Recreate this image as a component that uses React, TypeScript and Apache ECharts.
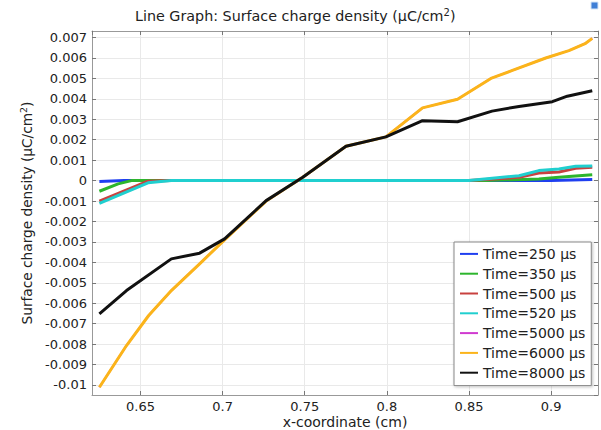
import React, { useEffect, useRef } from "react";
import * as echarts from "echarts";

const seriesNames = [
  "Time=250 µs",
  "Time=350 µs",
  "Time=500 µs",
  "Time=520 µs",
  "Time=5000 µs",
  "Time=6000 µs",
  "Time=8000 µs",
];
const seriesColors = ["#1f3ff0", "#2db52d", "#c8413f", "#20cfcf", "#d03ad0", "#fbb41a", "#111111"];

const x250 = [0.625, 0.64, 0.9, 0.925];
const y250 = [-0.00004, 0, 0, 0.00005];

const x350 = [0.625, 0.6364, 0.6445, 0.86, 0.8925, 0.9047, 0.925];
const y350 = [-0.00052, -0.00016, 0, 0, 0.00008, 0.00016, 0.00029];

const x500 = [0.625, 0.6546, 0.668, 0.85, 0.8804, 0.8925, 0.9047, 0.9149, 0.925];
const y500 = [-0.00101, -0.00003, 0, 0, 0.00016, 0.00037, 0.00042, 0.0006, 0.00065];

const x520 = [0.625, 0.6546, 0.6688, 0.85, 0.8804, 0.8925, 0.9047, 0.9149, 0.925];
const y520 = [-0.00111, -0.00011, 0, 0, 0.00024, 0.00049, 0.00057, 0.0007, 0.00072];

const x6000 = [0.625, 0.6415, 0.655, 0.6688, 0.686, 0.7012, 0.7265, 0.7488, 0.7751, 0.7994, 0.8217, 0.843, 0.8633, 0.876, 0.8967, 0.9108, 0.921, 0.925];
const y6000 = [-0.01011, -0.00807, -0.0066, -0.00538, -0.00407, -0.0029, -0.001, 0.00016, 0.00168, 0.00214, 0.00356, 0.00398, 0.005, 0.00538, 0.006, 0.00636, 0.00672, 0.00696];

const x5000 = x6000;
const y5000 = y6000;

const x8000 = [0.625, 0.6415, 0.6688, 0.686, 0.7012, 0.7265, 0.7488, 0.7751, 0.7994, 0.8217, 0.843, 0.864, 0.8804, 0.9007, 0.9098, 0.925];
const y8000 = [-0.00652, -0.00538, -0.00383, -0.00355, -0.00285, -0.00098, 0.00016, 0.00168, 0.00214, 0.00293, 0.00288, 0.0034, 0.00363, 0.00386, 0.00413, 0.0044];

const seriesX = [x250, x350, x500, x520, x5000, x6000, x8000];
const seriesY = [y250, y350, y500, y520, y5000, y6000, y8000];
const seriesWidths = [3, 3, 3, 3, 2, 3, 3];

const xAxisTitle = "x-coordinate (cm)";

const FONT = "DejaVu Sans";

function fmtY(v: number) {
  if (Math.abs(v) < 1e-12) return "0";
  return String(parseFloat(v.toFixed(3)));
}
function fmtX(v: number) {
  return String(parseFloat(v.toFixed(2)));
}

export default function App() {
  const ref = useRef<HTMLDivElement>(null);
  useEffect(() => {
    if (!ref.current) return;
    const chart = echarts.init(ref.current, null, { renderer: "svg" });
    const axisLineStyle = { color: "#999", width: 1 };
    const tickStyle = { color: "#777", width: 1 };
    const xBase = {
      type: "value" as const,
      min: 0.6205,
      max: 0.9285,
      splitNumber: 6,
      minInterval: 0.05,
      maxInterval: 0.05,
    };
    const yBase = {
      type: "value" as const,
      min: -0.01049,
      max: 0.00732,
      splitNumber: 18,
      minInterval: 0.001,
      maxInterval: 0.001,
    };
    const richName = {
      a: { fontFamily: FONT, fontSize: 13.7, fontWeight: "normal", color: "#222", lineHeight: 18 },
      s: { fontFamily: FONT, fontSize: 9.5, fontWeight: "normal", color: "#222", verticalAlign: "top", lineHeight: 12 },
    };
    const richTitle = {
      a: { fontFamily: FONT, fontSize: 14.3, fontWeight: "normal", color: "#222", lineHeight: 18 },
      s: { fontFamily: FONT, fontSize: 10, fontWeight: "normal", color: "#222", verticalAlign: "top", lineHeight: 12 },
    };
    chart.setOption({
      animation: false,
      backgroundColor: "#fff",
      textStyle: { fontFamily: FONT },
      title: {
        text: "{a|Line Graph: Surface charge density (µC/cm}{s|2}{a|)}",
        left: 135,
        top: 7,
        padding: 0,
        textStyle: { fontWeight: "normal", rich: richTitle },
      },
      grid: { left: 92, right: 3, top: 31, bottom: 35, containLabel: false, outerBoundsMode: "none" },
      legend: {
        orient: "vertical",
        left: 454,
        top: 242,
        icon: "rect",
        itemWidth: 18,
        itemHeight: 2,
        itemGap: 0,
        padding: [2, 6, 3, 6],
        backgroundColor: "#fff",
        borderColor: "#888",
        borderWidth: 1,
        shadowColor: "rgba(0,0,0,0.25)",
        shadowBlur: 3,
        shadowOffsetX: 1,
        shadowOffsetY: 1,
        textStyle: { fontFamily: FONT, fontSize: 14, color: "#222", lineHeight: 19.8 },
        data: seriesNames,
      },
      xAxis: [
        {
          ...xBase,
          position: "bottom",
          axisLine: { show: true, onZero: false, lineStyle: axisLineStyle },
          axisTick: { show: true, inside: true, length: 4, lineStyle: tickStyle },
          axisLabel: {
            show: true,
            showMinLabel: false,
            showMaxLabel: false,
            margin: 5,
            fontFamily: FONT,
            fontSize: 13,
            lineHeight: 13,
            color: "#222",
            formatter: fmtX,
          },
          splitLine: { show: true, lineStyle: { color: "#e9e9e9", width: 1 } },
        },
        {
          ...xBase,
          position: "top",
          axisLine: { show: true, onZero: false, lineStyle: axisLineStyle },
          axisTick: { show: true, inside: true, length: 4, lineStyle: tickStyle },
          axisLabel: { show: false },
          splitLine: { show: false },
        },
      ],
      yAxis: [
        {
          ...yBase,
          position: "left",
          name: "{a|Surface charge density (µC/cm}{s|2}{a|)}",
          nameLocation: "middle",
          nameRotate: 90,
          nameGap: 56,
          nameMoveOverlap: false,
          nameTextStyle: { rich: richName },
          axisLine: { show: true, onZero: false, lineStyle: axisLineStyle },
          axisTick: { show: true, inside: true, length: 4, lineStyle: tickStyle },
          axisLabel: {
            show: true,
            showMinLabel: false,
            showMaxLabel: false,
            margin: 5,
            fontFamily: FONT,
            fontSize: 13,
            color: "#222",
            formatter: fmtY,
          },
          splitLine: { show: true, lineStyle: { color: "#e9e9e9", width: 1 } },
        },
        {
          ...yBase,
          position: "right",
          axisLine: { show: true, onZero: false, lineStyle: axisLineStyle },
          axisTick: { show: true, inside: true, length: 4, lineStyle: tickStyle },
          axisLabel: { show: false },
          splitLine: { show: false },
        },
      ],
      series: seriesNames.map((name, i) => ({
        name,
        type: "line",
        xAxisIndex: 0,
        yAxisIndex: 0,
        showSymbol: false,
        symbol: "none",
        color: seriesColors[i],
        lineStyle: { width: seriesWidths[i], color: seriesColors[i], join: "round" },
        z: 2 + i,
        data: seriesX[i].map((x, j) => [x, seriesY[i][j]]),
      })),
      graphic: [
        {
          type: "text",
          x: 345,
          y: 421.5,
          style: {
            text: xAxisTitle,
            fontFamily: FONT,
            fontSize: 14,
            lineHeight: 14,
            fill: "#222",
            align: "center",
            verticalAlign: "middle",
          },
        },
        { type: "rect", shape: { x: 591, y: 2, width: 7, height: 7 }, style: { fill: "#3f7fd6", stroke: "#d7e6f7", lineWidth: 1 } },
      ],
    });
    return () => chart.dispose();
  }, []);
  return (
    <div
      ref={ref}
      style={{ position: "fixed", left: 0, top: 0, width: 601, height: 430 }}
    />
  );
}
